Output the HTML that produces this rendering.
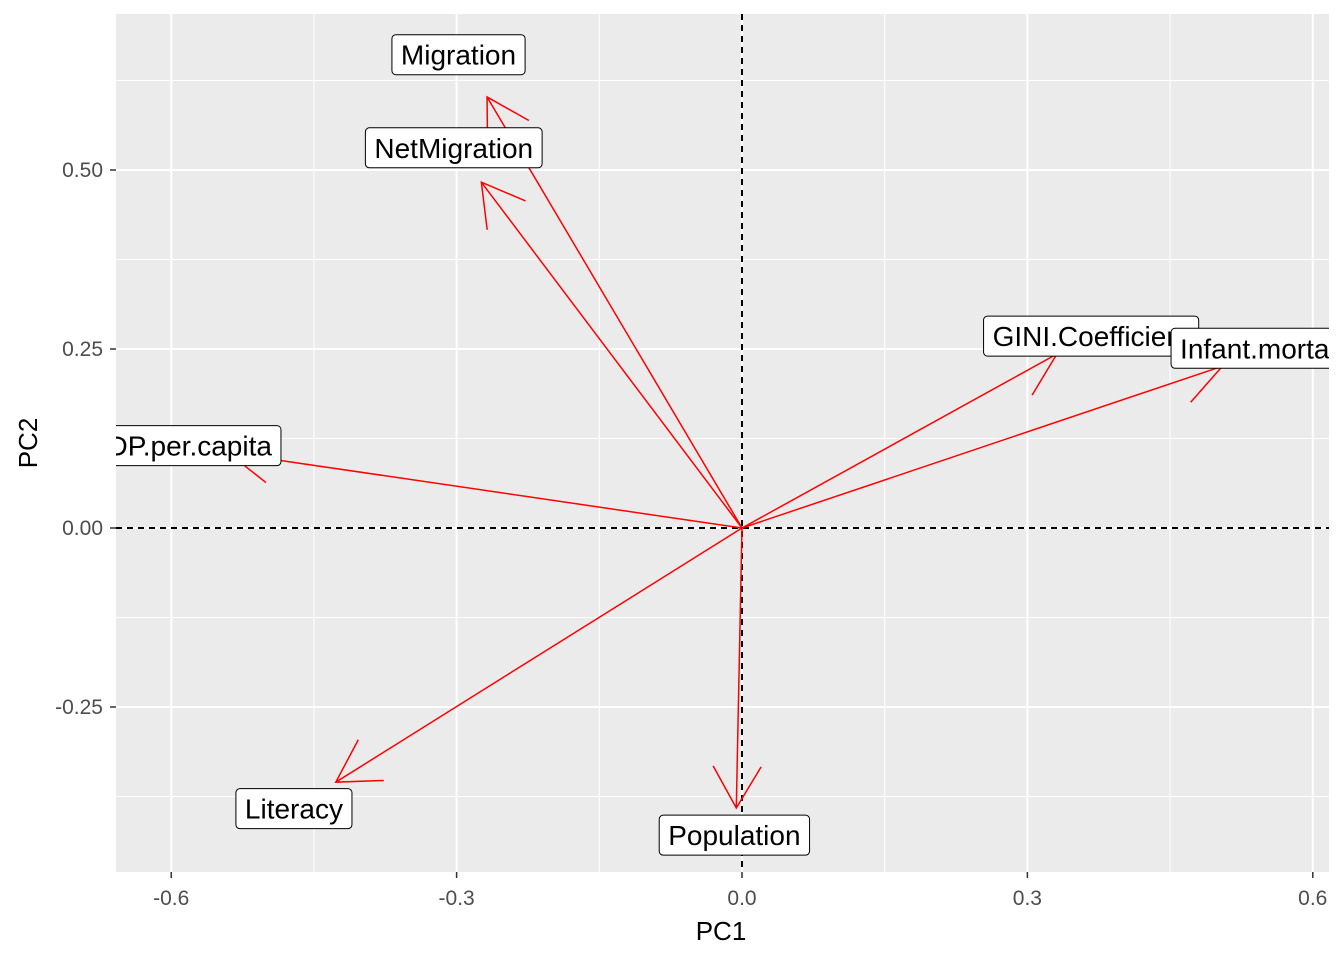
<!DOCTYPE html>
<html><head><meta charset="utf-8"><style>
html,body{margin:0;padding:0;background:#fff;}
svg text{font-family:"Liberation Sans",Arial,sans-serif;}
</style></head><body>
<svg id="chart" width="1344" height="960" xmlns="http://www.w3.org/2000/svg">
<defs><clipPath id="pc"><rect x="116" y="14" width="1213" height="858"/></clipPath></defs>
<rect x="116" y="14" width="1213" height="858" fill="#ebebeb"/>
<g id="grid"></g>
<g id="marks" clip-path="url(#pc)"></g>
<g id="axes"></g>
<text x="721" y="940" font-size="26" text-anchor="middle" fill="#000">PC1</text>
<text transform="translate(37,443) rotate(-90)" font-size="26" text-anchor="middle" fill="#000">PC2</text>
</svg>
<script>
const varNames=["Migration","NetMigration","GINI.Coefficient","Infant.mortality","GDP.per.capita","Literacy","Population"];
const pc1=[-0.268,-0.274,0.331,0.505,-0.540,-0.427,-0.006];
const pc2=[0.602,0.483,0.243,0.226,0.105,-0.355,-0.391];
const labelX=[-0.298,-0.303,0.367,0.557,-0.592,-0.471,-0.008];
const labelY=[0.661,0.531,0.268,0.251,0.115,-0.392,-0.429];
const xTicks=[-0.6,-0.3,0.0,0.3,0.6];
const xTickLabels=["-0.6","-0.3","0.0","0.3","0.6"];
const yTicks=[0.5,0.25,0.0,-0.25];
const yTickLabels=["0.50","0.25","0.00","-0.25"];

const NS="http://www.w3.org/2000/svg";
const sx=v=>742+v*951.3;
const sy=v=>528-v*716;
function mk(parent,tag,attrs){const e=document.createElementNS(NS,tag);for(const k in attrs)e.setAttribute(k,attrs[k]);parent.appendChild(e);return e;}
const grid=document.getElementById('grid'),marks=document.getElementById('marks'),axes=document.getElementById('axes');
for(let i=0;i<xTicks.length-1;i++){const m=(xTicks[i]+xTicks[i+1])/2;const l=mk(grid,'line',{x1:sx(m),x2:sx(m),y1:14,y2:872,stroke:'#fff','stroke-width':1});

}
const ym=[0.625,0.375,0.125,-0.125,-0.375];
ym.forEach(m=>{const l=mk(grid,'line',{x1:116,x2:1329,y1:sy(m),y2:sy(m),stroke:'#fff','stroke-width':1});

});
xTicks.forEach((t,i)=>{const l=mk(grid,'line',{x1:sx(t),x2:sx(t),y1:14,y2:872,stroke:'#fff','stroke-width':2});


const tk=mk(axes,'line',{x1:sx(t),x2:sx(t),y1:872,y2:878,stroke:'#333','stroke-width':1.5});


const tx=mk(axes,'text',{x:sx(t),y:905,'font-size':21,'text-anchor':'middle',fill:'#4d4d4d'});tx.textContent=xTickLabels[i];

});
yTicks.forEach((t,i)=>{const l=mk(grid,'line',{x1:116,x2:1329,y1:sy(t),y2:sy(t),stroke:'#fff','stroke-width':2});


const tk=mk(axes,'line',{x1:110,x2:116,y1:sy(t),y2:sy(t),stroke:'#333','stroke-width':1.5});


const tx=mk(axes,'text',{x:103,y:sy(t)+7,'font-size':21,'text-anchor':'end',fill:'#4d4d4d'});tx.textContent=yTickLabels[i];

});
const hl=mk(marks,'line',{x1:116,x2:1329,y1:sy(0),y2:sy(0),stroke:'#000','stroke-width':2,'stroke-dasharray':'6,5'});


const vl=mk(marks,'line',{x1:sx(0),x2:sx(0),y1:14,y2:872,stroke:'#000','stroke-width':2,'stroke-dasharray':'6,5'});


varNames.forEach((n,i)=>{
 const x0=sx(0),y0=sy(0),x1=sx(pc1[i]),y1=sy(pc2[i]);
 const ang=Math.atan2(y1-y0,x1-x0),L=48,a=Math.PI/6;
 const d=`M${x0},${y0}L${x1},${y1}M${x1+L*Math.cos(ang+Math.PI-a)},${y1+L*Math.sin(ang+Math.PI-a)}L${x1},${y1}L${x1+L*Math.cos(ang+Math.PI+a)},${y1+L*Math.sin(ang+Math.PI+a)}`;
 const p=mk(marks,'path',{d:d,stroke:'#ff0000','stroke-width':1.5,fill:'none'});
 
 
});
varNames.forEach((n,i)=>{
 const g=mk(marks,'g',{});
 
 
 const cx=sx(labelX[i]),cy=sy(labelY[i]);
 const t=mk(g,'text',{x:cx,y:cy+10,'font-size':28,'text-anchor':'middle',fill:'#000'});t.textContent=n;
 const w=t.getComputedTextLength();
 const r=mk(g,'rect',{x:cx-w/2-9,y:cy-20,width:w+18,height:40,rx:4,fill:'#fff',stroke:'#000','stroke-width':1});
 g.insertBefore(r,t);
});
</script>
</body></html>
